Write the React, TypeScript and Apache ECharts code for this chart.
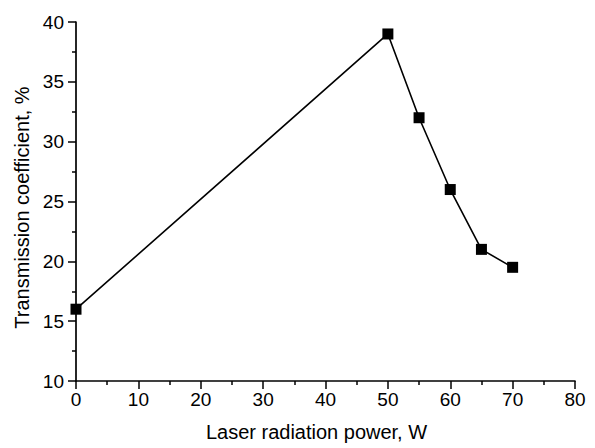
import React, { useEffect, useRef } from "react";
import * as echarts from "echarts";

const powerW = [0, 50, 55, 60, 65, 70];
const transmission = [16, 39, 32, 26, 21, 19.5];
const xAxisName = "Laser radiation power, W";
const yAxisName = "Transmission coefficient, %";

export default function App() {
  const ref = useRef<HTMLDivElement>(null);
  useEffect(() => {
    if (!ref.current) return;
    const chart = echarts.init(ref.current, null, { renderer: "svg" });
    const font = "Liberation Sans, Arial, sans-serif";
    const axisCommon = {
      axisLine: { show: true, onZero: false, lineStyle: { color: "#000", width: 1.7 } },
      axisTick: { show: true, inside: false, length: 8, lineStyle: { color: "#000", width: 1.5 } },
      minorTick: { show: true, splitNumber: 2, length: 4, lineStyle: { color: "#000", width: 1.5 } },
      splitLine: { show: false },
      axisLabel: { color: "#000", fontSize: 19, fontFamily: font },
      nameLocation: "middle" as const,
    };
    chart.setOption({
      animation: false,
      backgroundColor: "#fff",
      grid: { left: 76, right: 20, top: 22, bottom: 67, containLabel: false },
      xAxis: {
        type: "value",
        min: 0,
        max: 80,
        interval: 10,
        name: xAxisName,
        nameGap: 41,
        nameTextStyle: { color: "#000", fontSize: 20, fontFamily: font, padding: [0, 18, 0, 0] },
        ...axisCommon,
        axisLabel: { ...axisCommon.axisLabel, margin: 9 },
      },
      yAxis: {
        type: "value",
        min: 10,
        max: 40,
        interval: 5,
        name: yAxisName,
        nameGap: 43,
        nameTextStyle: { color: "#000", fontSize: 20, fontFamily: font, padding: [0, 12, 0, 0] },
        ...axisCommon,
        axisLabel: { ...axisCommon.axisLabel, margin: 12 },
      },
      series: [
        {
          type: "line",
          data: powerW.map((x, i) => [x, transmission[i]]),
          symbol: "rect",
          symbolSize: 11,
          showAllSymbol: true,
          clip: false,
          lineStyle: { color: "#000", width: 1.6 },
          itemStyle: { color: "#000" },
        },
      ],
    });
    return () => chart.dispose();
  }, []);
  return <div ref={ref} style={{ width: 595, height: 448, position: "absolute", left: 0, top: 0 }} />;
}
